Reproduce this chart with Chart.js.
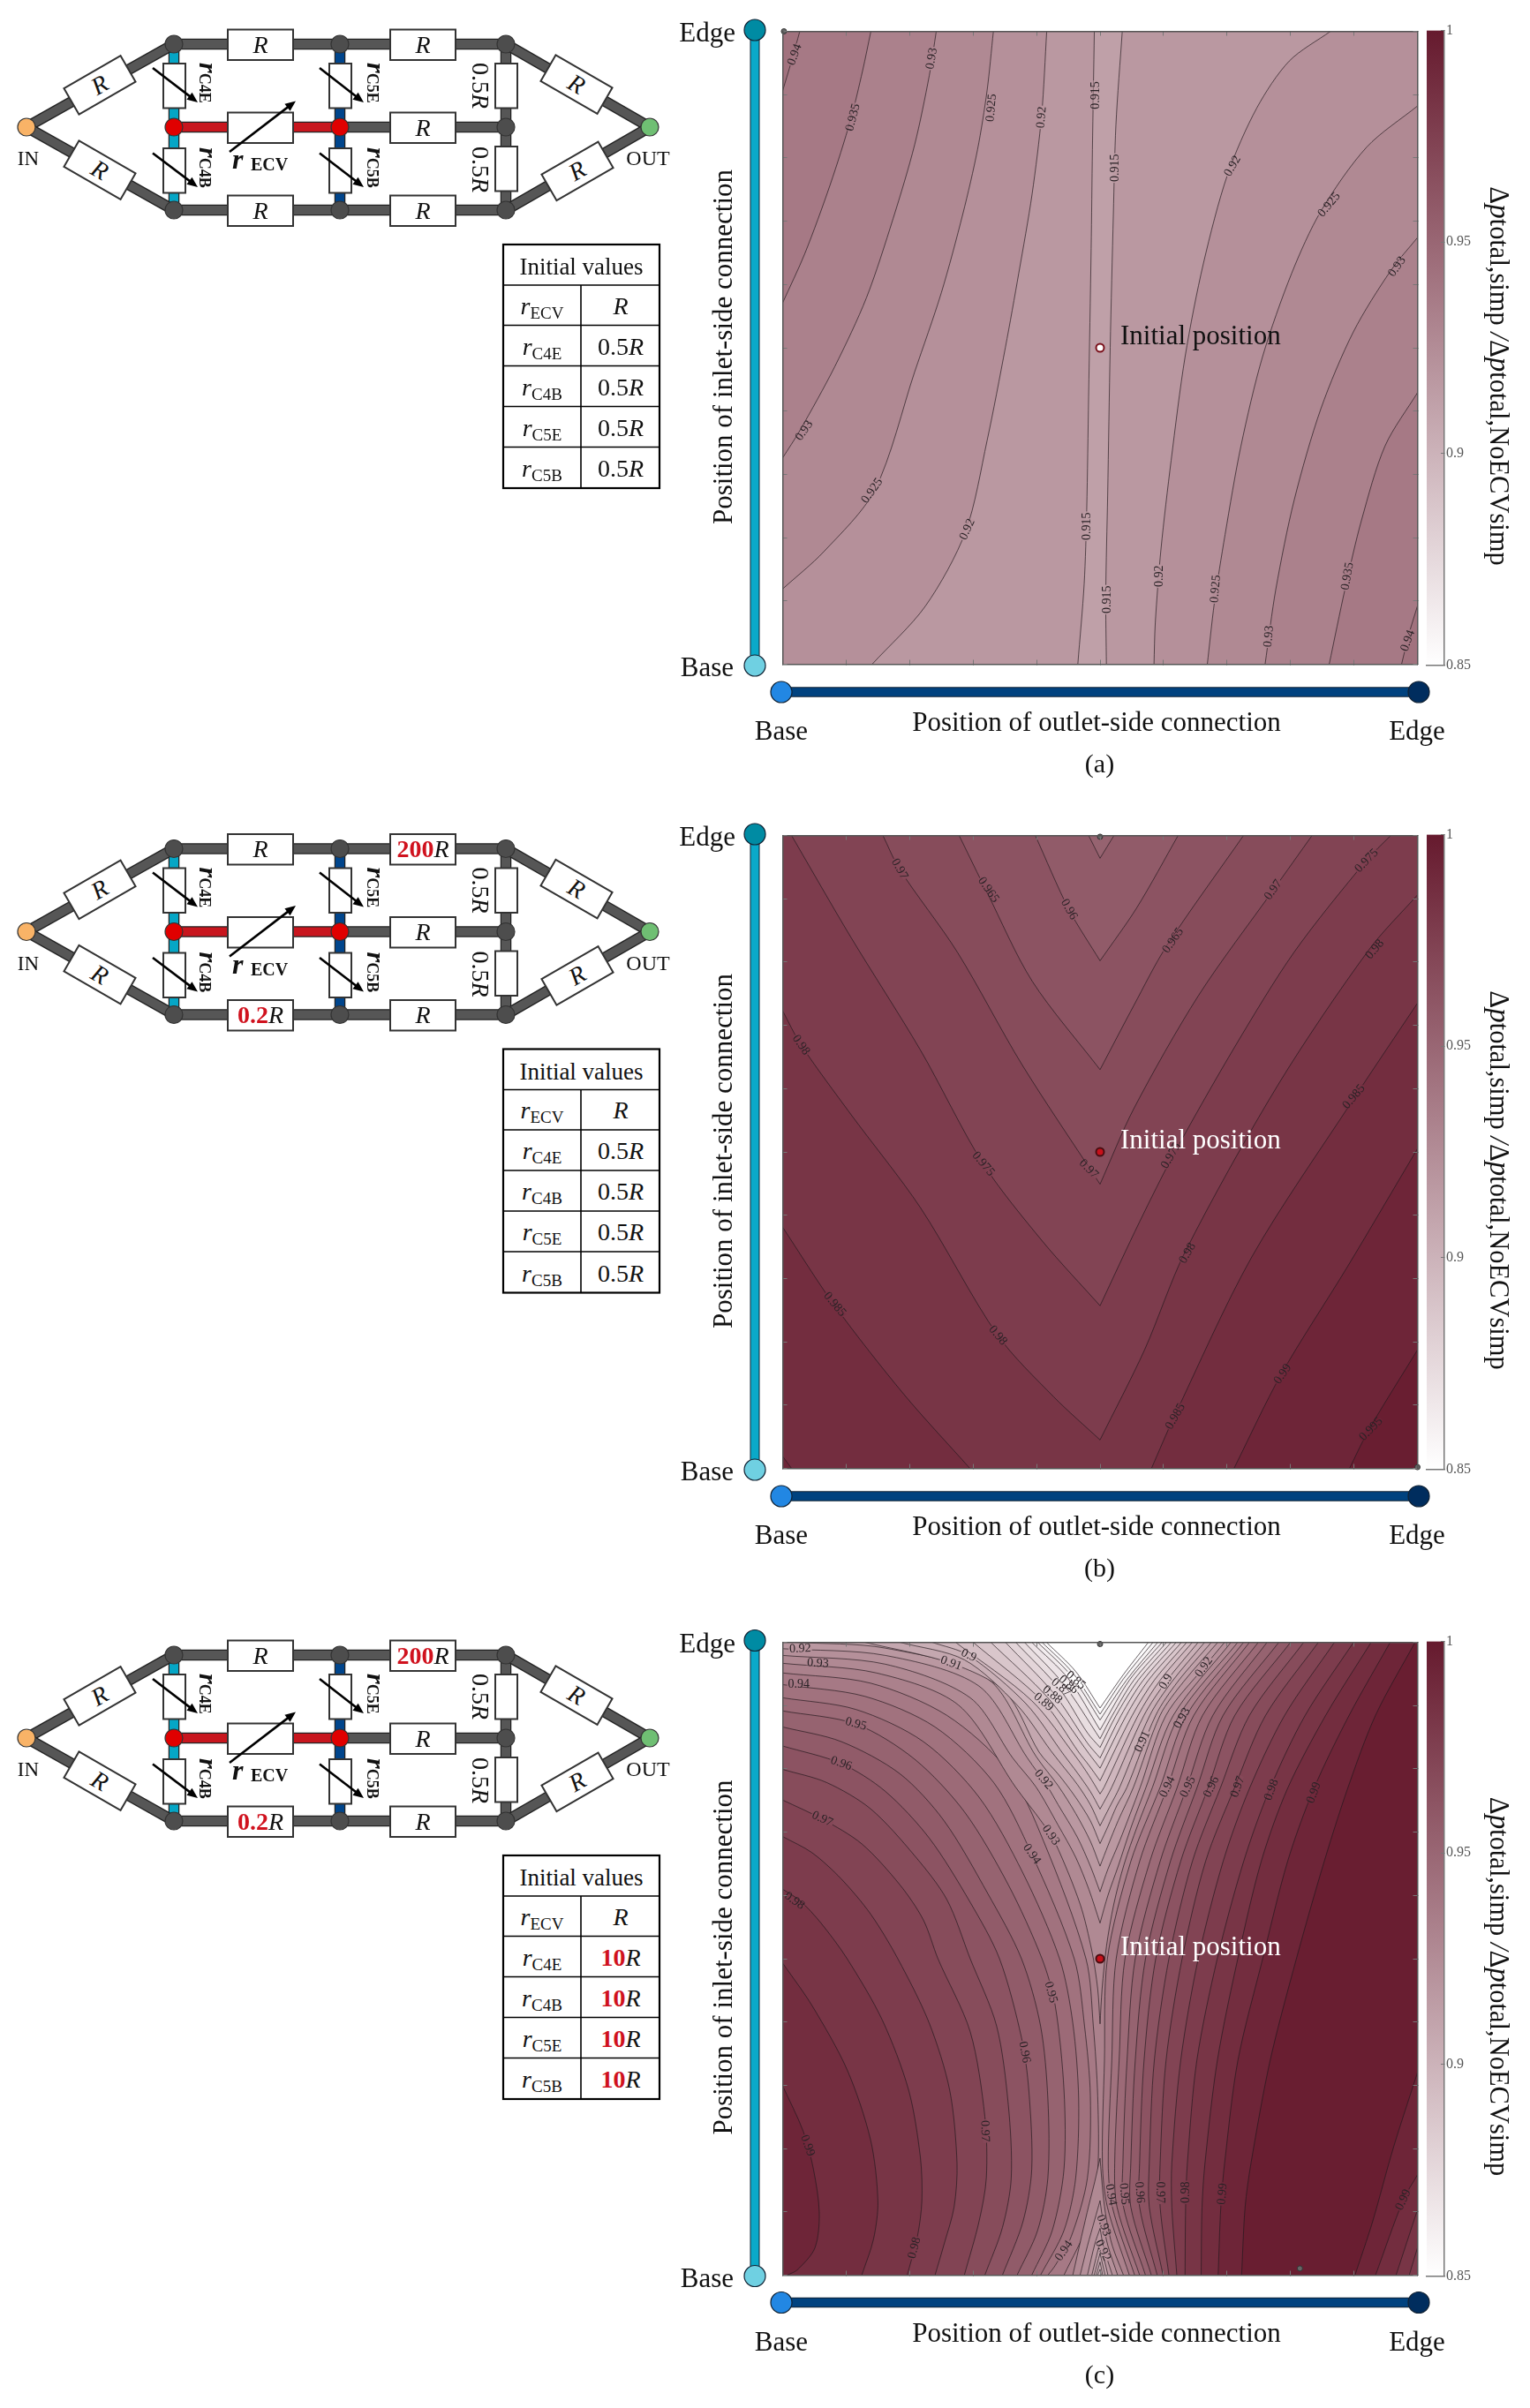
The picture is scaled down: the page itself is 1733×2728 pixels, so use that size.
<!DOCTYPE html>
<html>
<head>
<meta charset="utf-8">
<title>Contour maps</title>
<script src="https://cdn.jsdelivr.net/npm/chart.js@4/dist/chart.umd.js"></script>
<style>
    html, body { margin: 0; padding: 0; background: #fff; }
    #page { position: relative; width: 1733px; height: 2728px; overflow: hidden; }
    #page canvas { position: absolute; z-index: 1; }
    #overlay { position: absolute; left: 0; top: 0; z-index: 5; pointer-events: none; }
    #overlay text { font-family: "Liberation Serif", serif; fill: #111; }
</style>
</head>
<body>
<div id="page"><svg id="overlay" width="1733" height="2728"></svg></div>
<script>
// === Data ===
// Contour rows: level, colour band value, plot corners on the filled side, x/y pairs
// Panels a and b: position in % of each axis, y measured from Base
var panelALines = [
    [0.915, 0.9175, 'BL TL', [49.1,100, 48.8,81.3, 48.6,65.7, 48.2,42.3, 47.9,24.4, 47.5,12.7, 46.5,0]],
    [0.92, 0.9225, 'BL TL', [41.6,100, 40.8,86.8, 39.3,74.3, 37.2,61.8, 35.1,50.1, 32.2,35.3, 28.8,20.9, 22.5,9.2, 14.1,0]],
    [0.925, 0.9275, 'TL', [33.2,100, 32.2,90.6, 30.7,81.3, 28.4,71.2, 25,58.7, 20.8,46.2, 14.5,27.5, 6.5,17.8, 0,11.9]],
    [0.93, 0.9325, 'TL', [24.2,100, 23.1,93, 20.8,82.1, 17.4,70.4, 13.2,57.9, 8.2,47, 2.7,36.9, 0,32.6]],
    [0.935, 0.9375, 'TL', [13.9,100, 12.6,93.8, 10.7,86, 7.5,75.8, 3.5,64.9, 0,57.1]],
    [0.94, 0.9425, 'TL', [2.7,100, 1.4,95.3, 0,90.6]],
    [0.915, 0.9175, 'BR TR', [53.5,100, 52.5,85.2, 52.1,71.2, 51.6,50.1, 51.2,26.7, 50.9,11.1, 51,0]],
    [0.92, 0.9225, 'BR TR', [86.3,100, 79.8,95.3, 74.7,87.9, 70.1,77.4, 66.3,63.4, 63.4,48.6, 61.2,32.2, 59.6,18.2, 58.7,6.5, 58.5,0]],
    [0.925, 0.9275, 'BR', [100,88.2, 92,81.7, 84.8,71.6, 80.2,61.8, 75.6,48.6, 72.2,34.5, 69.7,20.5, 68,9.6, 66.9,0]],
    [0.93, 0.9325, 'BR', [100,67.4, 95.8,62.2, 89.9,52.5, 84.8,40.4, 80.6,26, 77.7,11.9, 76,0]],
    [0.935, 0.9375, 'BR', [100,42.9, 94.9,34.5, 91.2,22.8, 88.6,11.9, 86.1,0]],
    [0.94, 0.9425, 'BR', [100,9.2, 98.7,4.9, 97.5,0]]
];
var panelALabels = [
    [1.9,96.3,'0.94',-70], [23.5,95.7,'0.93',-80], [11.1,86.4,'0.935',-75], [32.9,87.9,'0.925',-85],
    [40.8,86.4,'0.92',-85], [49.3,89.9,'0.915',-90], [52.4,78.4,'0.915',-90], [70.9,78.7,'0.92',-60],
    [86.1,72.6,'0.925',-50], [96.8,62.8,'0.93',-55], [3.4,36.9,'0.93',-55], [14.1,27.4,'0.925',-55],
    [29.1,21.3,'0.92',-65], [47.9,21.8,'0.915',-90], [51.1,10.2,'0.915',-90], [59.4,13.9,'0.92',-90],
    [68.2,11.9,'0.925',-85], [76.6,4.4,'0.93',-85], [89,13.9,'0.935',-80], [98.5,3.7,'0.94',-70]
];
var panelALoose = [[0.2,100]];

var panelBLines = [
    [0.985, 0.9875, 'BL', [0,38.1, 8.2,25.7, 19.1,11.7, 29.5,0]],
    [0.99, 0.9925, 'BL', [0,1.9, 1.4,0]],
    [0.985, 0.9875, 'BR', [100,73.5, 89.9,58.3, 73.9,33.4, 61.7,8.2, 58.1,0]],
    [0.99, 0.9925, 'BR', [100,50.5, 89,31.9, 78.5,14.8, 71.1,0]],
    [0.995, 0.9975, 'BR', [100,18.7, 92.4,6.2, 89.3,0]],
    [0.98, 0.9775, 'TR TL', [0,72.3, 2.9,66.9, 10.7,56, 21.7,41.2, 33.9,21, 42.7,11.3, 50,4.5, 50,4.5, 57,18.7, 63.4,34.2, 78.1,60.7, 92.4,82, 100,90.6]],
    [0.975, 0.9725, '', [1.4,100, 10.7,84, 21.7,66.1, 31.6,48.1, 41,35.8, 50,25.7, 50,25.7, 56.2,38.9, 61.7,49.8, 71.4,66.9, 80.6,81.6, 91.9,96, 95.8,100]],
    [0.97, 0.9675, '', [15.8,100, 18.4,94.7, 27.5,81.6, 37.7,63.8, 50,44.9, 50,44.9, 55.3,56.8, 65.5,74.7, 77.3,91.4, 83.4,100]],
    [0.965, 0.9625, '', [27.8,100, 32.2,91, 39.3,77, 50,63, 50,63, 55.3,73.1, 60.4,82.4, 72.6,100]],
    [0.96, 0.9575, '', [39.8,100, 45.1,88.3, 50,80.2, 50,80.2, 55.8,88.6, 62.3,100]],
    [0.955, 0.9525, '', [48.2,100, 50,96.4, 50,96.4, 52.2,100]]
];
var panelBLabels = [
    [18.4,94.7,'0.97',60], [32.4,91.4,'0.965',55], [45.1,88.3,'0.96',60], [61.5,83.4,'0.965',-55],
    [77.3,91.4,'0.97',-55], [92,96,'0.975',-45], [93.3,82,'0.98',-50], [2.9,66.9,'0.98',55],
    [90,58.7,'0.985',-50], [31.6,48.1,'0.975',50], [48.2,47.3,'0.97',45], [61.2,49.4,'0.975',-60],
    [63.8,34,'0.98',-60], [8.2,25.9,'0.985',50], [33.9,21,'0.98',50], [78.8,14.9,'0.99',-55],
    [61.9,8.2,'0.985',-60], [92.7,6.2,'0.995',-45]
];
var panelBLoose = [[50,99.8], [100,0.2]];

// Panel c: position in 1/2166 of each axis, y measured from Edge
var panelCLines = [
    [0.935, 0.9375, 'BL', [0,105, 300,140, 560,250, 770,440, 890,680, 1035,1083, 1060,1313, 1075,1553, 1075,1813, 1045,1983, 960,2166]],
    [0.94, 0.9425, 'BL', [0,145, 280,185, 520,290, 720,480, 850,725, 995,1083, 1030,1313, 1050,1553, 1040,1833, 985,2033, 930,2133, 905,2166]],
    [0.945, 0.9475, 'BL', [0,190, 250,230, 480,340, 670,530, 820,790, 945,1083, 990,1303, 1010,1563, 1000,1833, 960,2013, 880,2166]],
    [0.95, 0.9525, 'BL', [0,235, 250,280, 450,400, 620,580, 770,830, 885,1083, 930,1243, 960,1533, 960,1803, 920,2013, 850,2166]],
    [0.955, 0.9575, 'BL', [0,290, 200,340, 400,450, 550,610, 700,860, 815,1083, 880,1313, 905,1563, 905,1833, 870,2013, 800,2166]],
    [0.96, 0.9625, 'BL', [0,355, 200,415, 350,510, 500,670, 640,890, 740,1083, 815,1353, 840,1533, 850,1803, 820,1983, 750,2166]],
    [0.965, 0.9675, 'BL', [0,435, 150,480, 300,570, 450,730, 560,880, 640,1083, 730,1313, 770,1583, 780,1833, 750,2003, 690,2166]],
    [0.97, 0.9725, 'BL', [0,540, 135,605, 270,690, 400,830, 480,950, 530,1083, 640,1333, 690,1623, 695,1833, 670,1983, 620,2166]],
    [0.975, 0.9775, 'BL', [0,665, 100,720, 200,810, 300,930, 393,1083, 500,1303, 570,1533, 595,1783, 585,1933, 550,2063, 520,2166]],
    [0.98, 0.9825, 'BL', [0,845, 60,885, 130,960, 220,1083, 340,1293, 430,1533, 470,1763, 475,1913, 460,2033, 425,2166]],
    [0.985, 0.9875, 'BL', [0,1098, 100,1243, 220,1463, 300,1703, 325,1913, 310,2043, 270,2166]],
    [0.99, 0.9925, 'BL', [0,1518, 70,1673, 105,1803, 125,1953, 110,2073, 50,2148, 15,2166]],

    [0.935, 0.9375, 'BR TR', [1573,0, 1378,250, 1288,496, 1188,750, 1108,1083, 1098,1433, 1091,1783, 1108,1933, 1183,2166]],
    [0.94, 0.9425, 'BR TR', [1593,0, 1403,250, 1313,496, 1218,750, 1138,1083, 1123,1433, 1111,1783, 1125,1933, 1201,2166]],
    [0.945, 0.9475, 'BR TR', [1623,0, 1433,250, 1345,500, 1253,750, 1168,1083, 1148,1433, 1133,1783, 1141,1933, 1218,2166]],
    [0.95, 0.9525, 'BR TR', [1653,0, 1468,250, 1378,500, 1288,750, 1203,1083, 1175,1433, 1161,1783, 1163,1933, 1238,2166]],
    [0.955, 0.9575, 'BR TR', [1693,0, 1503,250, 1413,500, 1323,750, 1238,1083, 1203,1433, 1188,1783, 1188,1933, 1258,2166]],
    [0.96, 0.9625, 'BR TR', [1733,0, 1543,250, 1451,500, 1358,750, 1273,1083, 1233,1433, 1218,1783, 1218,1933, 1278,2166]],
    [0.965, 0.9675, 'BR TR', [1778,0, 1593,250, 1493,500, 1398,750, 1318,1083, 1268,1433, 1251,1783, 1251,1933, 1298,2166]],
    [0.97, 0.9725, 'BR TR', [1828,0, 1648,250, 1541,500, 1443,750, 1363,1083, 1308,1433, 1288,1783, 1288,1933, 1318,2166]],
    [0.975, 0.9775, 'BR TR', [1883,0, 1713,250, 1593,500, 1503,750, 1418,1083, 1358,1433, 1328,1783, 1328,1933, 1345,2166]],
    [0.98, 0.9825, 'BR TR', [1948,0, 1783,250, 1663,500, 1573,750, 1483,1083, 1413,1433, 1381,1783, 1375,1933, 1373,2166]],
    [0.985, 0.9875, 'BR TR', [2008,0, 1853,250, 1723,500, 1633,750, 1553,1083, 1483,1433, 1441,1783, 1431,1933, 1428,2166]],
    [0.99, 0.9925, 'BR TR', [2073,0, 1933,250, 1813,500, 1723,750, 1638,1083, 1553,1433, 1508,1783, 1495,1933, 1486,2166]],
    [0.995, 0.9975, 'BR TR', [2158,0, 2023,250, 1928,500, 1848,750, 1753,1083, 1663,1433, 1598,1783, 1578,1933, 1566,2166]],

    [0.995, 0.9925, 'BR', [2166,1473, 2083,1733, 2013,1983, 1953,2166]],
    [0.99, 0.9875, 'BR', [2166,1823, 2118,1908, 2023,2166]],
    [0.985, 0.9825, 'BR', [2166,1943, 2093,2166]],
    [0.98, 0.9775, 'BR', [2166,2073, 2138,2166]],

    [0.93, 0.9275, 'TL', [0,72, 320,105, 600,215, 795,496, 885,616, 930,686, 1015,896, 1055,1056, 1075,1186, 1083,1306, 1083,1306, 1090,1186, 1105,1040, 1130,896, 1165,760, 1210,630, 1262,496, 1353,250, 1553,0]],
    [0.925, 0.9225, 'TL', [0,45, 350,75, 640,190, 785,396, 865,496, 940,626, 1000,736, 1045,846, 1083,961, 1083,961, 1110,866, 1145,766, 1190,630, 1240,496, 1333,250, 1530,0]],
    [0.92, 0.9175, 'TL', [0,22, 350,45, 670,150, 835,396, 905,496, 940,556, 1005,666, 1050,766, 1083,854, 1083,854, 1110,776, 1150,680, 1220,496, 1308,250, 1438,85, 1508,0]],
    [0.915, 0.9125, '', [40,0, 350,20, 700,125, 865,391, 940,491, 1000,586, 1050,681, 1083,766, 1083,766, 1110,696, 1145,610, 1197,496, 1288,250, 1368,135, 1485,0]],
    [0.91, 0.9075, '', [280,0, 575,72, 760,170, 875,376, 940,451, 1000,531, 1050,611, 1083,689, 1083,689, 1110,630, 1140,560, 1175,496, 1273,250, 1348,135, 1463,0]],
    [0.905, 0.9025, '', [400,0, 620,60, 800,215, 915,371, 950,416, 1005,486, 1050,556, 1083,628, 1083,628, 1115,565, 1150,496, 1253,250, 1328,135, 1440,0]],
    [0.9, 0.8975, '', [510,0, 635,45, 830,210, 960,386, 1005,446, 1050,511, 1083,571, 1083,571, 1123,496, 1233,250, 1308,135, 1418,0]],
    [0.895, 0.8925, '', [590,0, 850,200, 1000,391, 1045,456, 1083,519, 1083,519, 1097,496, 1213,250, 1288,130, 1398,0]],
    [0.89, 0.8875, '', [650,0, 890,205, 1010,376, 1045,421, 1083,474, 1083,474, 1193,250, 1268,130, 1379,0]],
    [0.885, 0.8825, '', [710,0, 905,190, 1045,381, 1083,431, 1083,431, 1173,250, 1248,130, 1361,0]],
    [0.88, 0.8775, '', [760,0, 925,175, 1040,345, 1083,396, 1083,396, 1155,250, 1230,130, 1343,0]],
    [0.875, 0.8725, '', [795,0, 945,160, 1040,310, 1083,360, 1083,360, 1138,250, 1213,130, 1326,0]],
    [0.87, 0.8675, '', [825,0, 960,145, 1083,330, 1083,330, 1125,250, 1198,130, 1310,0]],
    [0.865, 0.8625, '', [850,0, 975,125, 1083,300, 1083,300, 1183,130, 1295,0]],
    [0.86, 0.8575, '', [870,0, 985,115, 1083,266, 1083,266, 1173,130, 1280,0]],
    [0.855, 0.8525, '', [885,0, 990,105, 1083,246, 1083,246, 1163,125, 1264,0]],
    [0.85, 0.85, '', [900,0, 1000,100, 1083,225, 1083,225, 1163,110, 1248,0]],

    [0.93, 0.9275, '', [990,2166, 1020,2033, 1045,1926, 1065,1846, 1083,1766, 1083,1766, 1093,1886, 1105,1976, 1125,2066, 1163,2166]],
    [0.925, 0.9225, '', [1015,2166, 1040,2066, 1065,1976, 1083,1911, 1083,1911, 1095,1996, 1110,2066, 1143,2166]],
    [0.92, 0.9175, '', [1040,2166, 1065,2060, 1083,2006, 1083,2006, 1095,2070, 1125,2166]],
    [0.915, 0.9125, '', [1055,2166, 1083,2051, 1083,2051, 1110,2166]],
    [0.91, 0.9075, '', [1063,2166, 1083,2091, 1083,2091, 1100,2166]],
    [0.905, 0.9025, '', [1070,2166, 1083,2121, 1083,2121, 1092,2166]],
    [0.9, 0.8975, '', [1075,2166, 1083,2146, 1083,2146, 1087,2166]]
];
var panelCLabels = [
    [60,22,'0.92',-2], [120,72,'0.93',3], [55,145,'0.94',0], [250,280,'0.95',15], [200,415,'0.96',20],
    [135,605,'0.97',25], [40,885,'0.98',35], [575,72,'0.91',20], [635,45,'0.9',25], [1000,130,'0.85',40],
    [975,145,'0.86',40], [950,155,'0.87',40], [920,180,'0.88',40], [890,205,'0.89',40], [890,470,'0.92',50],
    [915,660,'0.93',55], [850,725,'0.94',55],
    [1438,85,'0.92',-55], [1308,135,'0.9',-60], [1363,260,'0.93',-60], [1228,340,'0.91',-65],
    [1313,495,'0.94',-65], [1383,495,'0.95',-65], [1463,495,'0.96',-65], [1553,495,'0.97',-70],
    [1668,505,'0.98',-70], [1813,515,'0.99',-70],
    [915,1198,'0.95',75], [825,1403,'0.96',80], [690,1673,'0.97',88], [85,1723,'0.99',70],
    [450,2073,'0.98',-75], [960,2083,'0.94',-55],
    [1120,1891,'0.94',80], [1165,1888,'0.95',85], [1218,1883,'0.96',85], [1288,1883,'0.97',90],
    [1376,1883,'0.98',-90], [1501,1888,'0.99',-85], [2118,1908,'0.99',-65], [1095,1996,'0.93',70], [1092,2081,'0.92',65]
];
var panelCLoose = [[1083,6], [1765,2143]];

var colorbarTicks = [1, 0.95, 0.9, 0.85];
var tableNames = ['ECV', 'C4E', 'C4B', 'C5E', 'C5B'];
var tableValuesAB = ['R', '0.5', '0.5', '0.5', '0.5'];
var tableValuesC = ['R', '10', '10', '10', '10'];

// === Helpers ===
var SERIF = '"Liberation Serif", serif';

function bandColor(v) {
    // white at 0.85 up to the dark wine red at 1
    var t = Math.max(0, Math.min(1, (v - 0.85) / 0.15));
    return 'rgb(' + Math.round(255 - 153 * t) + ',' + Math.round(255 - 229 * t) + ',' + Math.round(255 - 209 * t) + ')';
}

function toPoints(flat) {
    var pts = [];
    for (var i = 0; i < flat.length; i += 2) pts.push({x: flat[i], y: flat[i + 1]});
    return pts;
}

// Close an open contour outside the plot so the fill covers its side, the clip trims the rest
function closeContour(flat, corners, s) {
    var pts = toPoints(flat);
    var m = s.max * 0.3;
    var top = s.reverse ? -m : s.max + m;
    var bottom = s.reverse ? s.max + m : -m;
    var cornerAt = {
        TL: {x: -m, y: top}, TR: {x: s.max + m, y: top},
        BL: {x: -m, y: bottom}, BR: {x: s.max + m, y: bottom}
    };
    function out(p) {
        if (p.x <= 0) return {x: -m, y: p.y};
        if (p.x >= s.max) return {x: s.max + m, y: p.y};
        var topVal = s.reverse ? 0 : s.max;
        return {x: p.x, y: p.y === topVal ? top : bottom};
    }
    var first = pts[0], last = pts[pts.length - 1];
    // end points doubled so the spline does not bend towards the closing edge
    var loop = [first].concat(pts, [last, out(last)]);
    corners.split(' ').forEach(function(c) {
        if (c) loop.push(cornerAt[c]);
    });
    loop.push(out(first));
    return loop;
}

var contourLabelPlugin = {
    id: 'contourLabels',
    afterDatasetsDraw: function(chart, args, opts) {
        var ctx = chart.ctx;
        ctx.save();
        ctx.font = '14px ' + SERIF;
        ctx.textAlign = 'center';
        ctx.textBaseline = 'middle';
        opts.items.forEach(function(l) {
            var w = ctx.measureText(l[2]).width;
            ctx.save();
            ctx.translate(chart.scales.x.getPixelForValue(l[0]), chart.scales.y.getPixelForValue(l[1]));
            ctx.rotate(l[3] * Math.PI / 180);
            ctx.fillStyle = bandColor(parseFloat(l[2]));
            ctx.fillRect(-w / 2 - 1, -2.5, w + 2, 5);
            ctx.fillStyle = '#2a2226';
            ctx.fillText(l[2], 0, 0);
            ctx.restore();
        });
        ctx.restore();
    }
};

function addCanvas(left, top, w, h) {
    var c = document.createElement('canvas');
    c.width = w;
    c.height = h;
    c.style.left = left + 'px';
    c.style.top = top + 'px';
    c.style.width = w + 'px';
    c.style.height = h + 'px';
    document.getElementById('page').appendChild(c);
    return c;
}

function frameAxis(position, s, isY) {
    return {
        type: 'linear',
        position: position,
        min: 0,
        max: s.max,
        reverse: isY ? s.reverse : false,
        afterFit: function(scale) {
            if (isY) scale.width = 0; else scale.height = 0;
        },
        ticks: {display: false, stepSize: s.max / 10, autoSkip: false},
        grid: {drawOnChartArea: false, tickLength: -5, color: '#777', z: 1},
        border: {display: true, color: '#555', width: 1.5, z: 1}
    };
}

function drawContours(top, lines, labels, loose, baseBand, s, markerFill, markerEdge) {
    var canvas = addCanvas(880, top - 5, 732, 730);
    var datasets = [{
        // the band that the contours below are painted over
        data: toPoints([-s.max, -s.max, 2 * s.max, -s.max, 2 * s.max, 2 * s.max, -s.max, 2 * s.max]),
        showLine: true, fill: 'shape', borderWidth: 0, pointRadius: 0, clip: 0,
        backgroundColor: bandColor(baseBand)
    }];
    lines.forEach(function(row) {
        datasets.push({
            label: String(row[0]),
            data: closeContour(row[3], row[2], s),
            showLine: true,
            fill: 'shape',
            tension: 0.3,
            capBezierPoints: false,
            backgroundColor: bandColor(row[1]),
            borderColor: 'rgba(35,25,30,0.68)',
            borderWidth: 1,
            pointRadius: 0,
            clip: 0
        });
    });
    datasets.push({
        data: toPoints([].concat.apply([], loose)),
        showLine: false, pointRadius: 3, backgroundColor: '#666', borderColor: '#333', borderWidth: 1, clip: false
    });
    datasets.push({
        data: [{x: s.max / 2, y: s.max / 2}],
        showLine: false, pointRadius: 4.5, backgroundColor: markerFill, borderColor: markerEdge, borderWidth: 2, clip: false
    });
    // datasets draw last to first, so the order is flipped to paint from the first row up
    datasets.forEach(function(d, i) { d.order = datasets.length - i; });

    new Chart(canvas, {
        type: 'scatter',
        data: {datasets: datasets},
        plugins: [contourLabelPlugin],
        options: {
            responsive: false,
            animation: false,
            events: [],
            layout: {padding: 5},
            plugins: {legend: {display: false}, tooltip: {enabled: false}, contourLabels: {items: labels}},
            scales: {
                x: frameAxis('bottom', s, false),
                x2: frameAxis('top', s, false),
                y: frameAxis('left', s, true),
                y2: frameAxis('right', s, true)
            }
        }
    });
}

function drawColorbar(top) {
    var canvas = addCanvas(1610, top - 15, 80, 750);
    new Chart(canvas, {
        type: 'bar',
        data: {
            labels: [''],
            datasets: [{
                data: [[0.85, 1]],
                barPercentage: 1,
                categoryPercentage: 1,
                borderWidth: 0,
                backgroundColor: function(ctx) {
                    var area = ctx.chart.chartArea;
                    if (!area) return '#fff';
                    var g = ctx.chart.ctx.createLinearGradient(0, area.bottom, 0, area.top);
                    g.addColorStop(0, bandColor(0.85));
                    g.addColorStop(1, bandColor(1));
                    return g;
                }
            }]
        },
        options: {
            responsive: false,
            animation: false,
            events: [],
            layout: {padding: {left: 6, top: 15, bottom: 15}},
            plugins: {legend: {display: false}, tooltip: {enabled: false}},
            scales: {
                x: {
                    display: true,
                    afterFit: function(scale) { scale.height = 0; },
                    ticks: {display: false},
                    grid: {display: false},
                    border: {display: true, color: '#777', width: 1.5, z: 1}
                },
                y: {
                    position: 'right',
                    min: 0.85,
                    max: 1,
                    afterFit: function(scale) { scale.width = 54; },
                    afterBuildTicks: function(scale) {
                        scale.ticks = colorbarTicks.map(function(v) { return {value: v}; });
                    },
                    ticks: {
                        padding: 6,
                        color: '#555',
                        font: {family: SERIF, size: 16},
                        callback: function(v) { return String(v); }
                    },
                    grid: {drawOnChartArea: false, tickLength: -4, color: '#777', z: 1},
                    border: {display: true, color: '#777', width: 1.5, z: 1}
                }
            }
        }
    });
}

// === Overlay pieces (schematic, table, rails, captions) ===
function text(x, y, inner, size, extra) {
    return '<text x="' + x + '" y="' + y + '" font-size="' + size + '" ' + (extra || '') + '>' + inner + '</text>';
}

function turned(x, y, deg, inner, size, extra) {
    return '<text transform="translate(' + x + ',' + y + ') rotate(' + deg + ')" font-size="' + size + '" ' + (extra || '') + '>' + inner + '</text>';
}

function wire(x1, y1, x2, y2, color) {
    var l = 'x1="' + x1 + '" y1="' + y1 + '" x2="' + x2 + '" y2="' + y2 + '"';
    return '<line ' + l + ' stroke="#222" stroke-width="12.5"/><line ' + l + ' stroke="' + color + '" stroke-width="10"/>';
}

function node(x, y, color) {
    return '<circle cx="' + x + '" cy="' + y + '" r="10" fill="' + color + '" stroke="#333" stroke-width="1.2"/>';
}

function box(x, y, w, h) {
    return '<rect x="' + x + '" y="' + y + '" width="' + w + '" height="' + h + '" fill="#fff" stroke="#333" stroke-width="2"/>';
}

function arrow(x1, y1, x2, y2) {
    var a = Math.atan2(y2 - y1, x2 - x1), h = 13;
    var p = [x2, y2,
        x2 - h * Math.cos(a - 0.4), y2 - h * Math.sin(a - 0.4),
        x2 - h * Math.cos(a + 0.4), y2 - h * Math.sin(a + 0.4)].join(' ');
    return '<line x1="' + x1 + '" y1="' + y1 + '" x2="' + (x2 - 6 * Math.cos(a)) + '" y2="' + (y2 - 6 * Math.sin(a)) + '" stroke="#000" stroke-width="2.6"/><polygon points="' + p + '" fill="#000"/>';
}

function italicR() { return '<tspan font-style="italic">R</tspan>'; }

function boxLabel(value) {
    if (value === 'R') return italicR();
    return '<tspan font-weight="bold" style="fill:#d0121e">' + value + '</tspan>' + italicR();
}

function slantedBox(x, y, deg) {
    return '<g transform="translate(' + x + ',' + y + ') rotate(' + deg + ')">' + box(-37, -17, 74, 34) +
        text(0, 9, italicR(), 28, 'text-anchor="middle"') + '</g>';
}

function rLabel(x, y, sub) {
    return turned(x, y, 90, '<tspan font-style="italic" font-weight="bold" font-size="30">r</tspan><tspan font-weight="bold">' + sub + '</tspan>', 18);
}

function network(dy, topRight, bottomLeft) {
    var dark = '#565656';
    var s = '<g transform="translate(0,' + dy + ')">';
    s += wire(197, 50, 197, 238, '#05a6c6') + wire(385, 50, 385, 238, '#00458c') + wire(573, 50, 573, 238, dark);
    s += wire(197, 50, 573, 50, dark) + wire(197, 238, 573, 238, dark);
    s += wire(197, 144, 385, 144, '#c8161e') + wire(385, 144, 573, 144, dark);
    s += wire(30, 144, 197, 50, dark) + wire(30, 144, 197, 238, dark);
    s += wire(573, 50, 736, 144, dark) + wire(573, 238, 736, 144, dark);

    [[197,50], [385,50], [573,50], [197,238], [385,238], [573,238], [573,144]].forEach(function(p) {
        s += node(p[0], p[1], '#4d4d4d');
    });
    s += node(197, 144, '#e00000') + node(385, 144, '#e00000');
    s += node(30, 144, '#f9b367') + node(736, 144, '#6fbf73');

    [[258, 33.5, 'R'], [442, 33.5, topRight], [258, 127.5, 'R'], [442, 127.5, 'R'], [258, 221.5, bottomLeft], [442, 221.5, 'R']].forEach(function(b) {
        s += box(b[0], b[1], 74, 34.5);
        if (!(b[0] === 258 && b[1] === 127.5)) {
            s += text(b[0] + 37, b[1] + 26, boxLabel(b[2]), 28, 'text-anchor="middle"');
        }
    });
    [[185, 72], [185, 168], [373, 72], [373, 168], [561, 72], [561, 166]].forEach(function(b) {
        s += box(b[0], b[1], 25, 50.5);
    });
    s += slantedBox(113, 96.4, -30) + slantedBox(113, 192.7, 30) + slantedBox(653, 95.6, 30) + slantedBox(654, 193.8, -30);

    s += arrow(173, 77, 224, 116) + arrow(173, 173.5, 224, 212) + arrow(362, 77, 412, 116) + arrow(362, 173.5, 412, 212);
    s += arrow(260, 172, 335, 114.5);

    s += rLabel(226, 71, 'C4E') + rLabel(226, 167, 'C4B') + rLabel(416, 71, 'C5E') + rLabel(416, 167, 'C5B');
    s += turned(535, 71, 90, '0.5' + italicR(), 28) + turned(535, 166, 90, '0.5' + italicR(), 28);
    s += text(263, 191, '<tspan font-style="italic" font-weight="bold" font-size="32">r</tspan>', 32);
    s += text(284, 193, 'ECV', 20, 'font-weight="bold"');
    s += text(32, 187, 'IN', 23, 'text-anchor="middle"') + text(734, 187, 'OUT', 24, 'text-anchor="middle"');
    return s + '</g>';
}

function valueTable(dy, values) {
    var rowLines = [323, 368.5, 414.5, 460.5, 506.5, 553];
    var s = '<g transform="translate(0,' + dy + ')">';
    s += '<rect x="570" y="277" width="177" height="276" fill="#fff" stroke="#000" stroke-width="2.2"/>';
    rowLines.slice(0, 5).forEach(function(y) {
        s += '<line x1="570" x2="747" y1="' + y + '" y2="' + y + '" stroke="#000" stroke-width="1.6"/>';
    });
    s += '<line x1="658" x2="658" y1="323" y2="553" stroke="#000" stroke-width="1.6"/>';
    s += text(658.5, 311, 'Initial values', 27, 'text-anchor="middle"');
    tableNames.forEach(function(name, i) {
        var base = rowLines[i + 1] - 13;
        s += text(614, base, '<tspan font-style="italic" font-size="28">r</tspan><tspan font-size="19" dy="5">' + name + '</tspan>', 28, 'text-anchor="middle"');
        var v = values[i];
        var label = v === 'R' ? italicR() : (v === '10' ? boxLabel('10') : '0.5' + italicR());
        s += text(703, base, label, 28, 'text-anchor="middle"');
    });
    return s + '</g>';
}

function rails(dy, tag, markerColor) {
    var s = '<g transform="translate(0,' + dy + ')">';
    s += '<line x1="855" y1="34" x2="855" y2="754" stroke="#123" stroke-width="11"/><line x1="855" y1="34" x2="855" y2="754" stroke="#0aa9c9" stroke-width="9"/>';
    s += '<line x1="885" y1="784" x2="1607" y2="784" stroke="#123" stroke-width="11.5"/><line x1="885" y1="784" x2="1607" y2="784" stroke="#00427f" stroke-width="9.5"/>';
    s += '<circle cx="855" cy="34" r="12" fill="#008ba3" stroke="#123" stroke-width="1.2"/>';
    s += '<circle cx="855" cy="754" r="12" fill="#6fd0e2" stroke="#123" stroke-width="1.2"/>';
    s += '<circle cx="885" cy="784" r="12" fill="#2287e3" stroke="#123" stroke-width="1.2"/>';
    s += '<circle cx="1607" cy="784" r="12" fill="#002d5e" stroke="#123" stroke-width="1.2"/>';
    s += text(833, 47, 'Edge', 31, 'text-anchor="end"') + text(831, 766, 'Base', 31, 'text-anchor="end"');
    s += text(885, 838, 'Base', 31, 'text-anchor="middle"') + text(1605, 838, 'Edge', 31, 'text-anchor="middle"');
    s += text(1242, 828, 'Position of outlet-side connection', 31, 'text-anchor="middle"');
    s += turned(829, 393, -90, 'Position of inlet-side connection', 31, 'text-anchor="middle"');
    s += text(1245.5, 875, tag, 30, 'text-anchor="middle"');
    s += text(1269, 390, 'Initial position', 31, 'style="fill:' + markerColor + '"');
    var dp = '<tspan font-size="31">Δ</tspan><tspan font-size="33" font-style="italic">p</tspan>';
    s += turned(1688, 426, 90, dp + 'total,simp <tspan font-style="italic">/</tspan>' + dp + 'total,NoECVsimp', 30.5, 'text-anchor="middle"');
    return s + '</g>';
}

// === Page ===
document.addEventListener('DOMContentLoaded', function() {
    var percentAxis = {max: 100, reverse: false};
    var fineAxis = {max: 2166, reverse: true};

    drawContours(34, panelALines, panelALabels, panelALoose, 0.9125, percentAxis, '#ffffff', '#7a0f1a');
    drawContours(945, panelBLines, panelBLabels, panelBLoose, 0.9825, percentAxis, '#c8101a', '#4a0d12');
    drawContours(1858.5, panelCLines, panelCLabels, panelCLoose, 0.9325, fineAxis, '#c8101a', '#4a0d12');
    drawColorbar(34);
    drawColorbar(945);
    drawColorbar(1858.5);

    var svg = '';
    svg += network(0, 'R', 'R') + valueTable(0, tableValuesAB) + rails(0, '(a)', '#111');
    svg += network(911.5, '200', '0.2') + valueTable(911.5, tableValuesAB) + rails(911, '(b)', '#fff');
    svg += network(1825, '200', '0.2') + valueTable(1825, tableValuesC) + rails(1824.5, '(c)', '#fff');
    document.getElementById('overlay').innerHTML = svg;
});
</script>
</body>
</html>
